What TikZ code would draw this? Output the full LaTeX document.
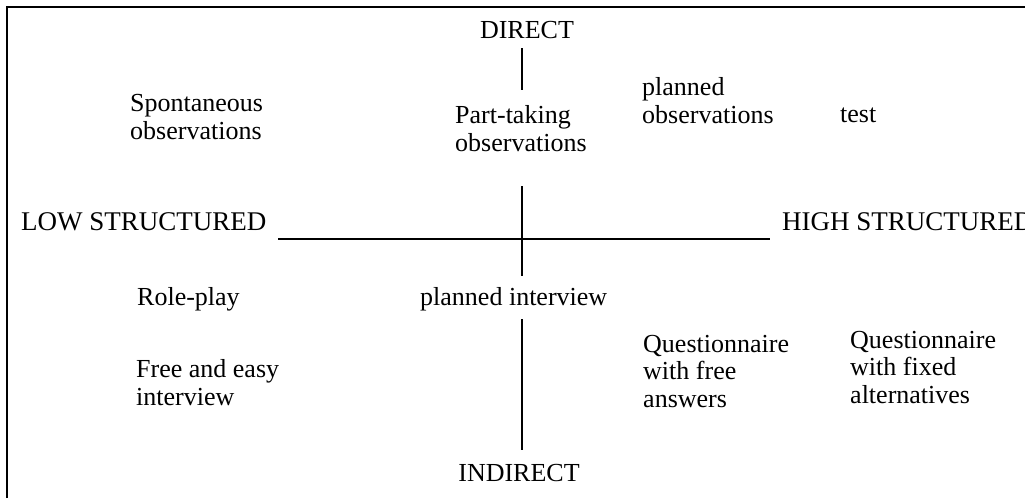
\documentclass[tikz,border=0pt]{standalone}
\usepackage{fontspec}
\setmainfont{Liberation Serif}
\begin{document}
\begin{tikzpicture}[x=1pt,y=-1pt,
  lbl/.style={font=\fontsize{26}{27.5}\selectfont,inner sep=0pt,anchor=base west,align=left},
  caplbl/.style={font=\fontsize{27}{28}\selectfont,inner sep=0pt,anchor=base west},
  clbl/.style={font=\fontsize{26}{27.5}\selectfont,inner sep=0pt,anchor=base},
  axis/.style={line width=1.5pt},
  frameline/.style={line width=2pt}]
\useasboundingbox (0,0) rectangle (1025,498);
\draw[frameline] (7,498) -- (7,7) -- (1025,7);
% labels (multi-line nodes are placed by the baseline of their last line)
\node[clbl] (direct) at (527,38) {DIRECT};
\node[clbl] (indirect) at (519,481) {INDIRECT};
\node[caplbl] (low) at (21,230) {LOW STRUCTURED};
\node[caplbl] (high) at (782,230) {HIGH STRUCTURED};
\node[lbl] (spont) at (130,139) {Spontaneous\\observations};
\node[lbl] (part) at (455,151) {Part-taking\\observations};
\node[lbl] (planobs) at (642,123) {planned\\observations};
\node[lbl] (test) at (840,122) {test};
\node[lbl] (role) at (137,305) {Role-play};
\node[lbl] (planint) at (420,305) {planned interview};
\node[lbl] (free) at (136,405) {Free and easy\\interview};
\node[lbl] (qfree) at (643,407) {Questionnaire\\with free\\answers};
\node[lbl] (qfix) at (850,403) {Questionnaire\\with fixed\\alternatives};
% axes
\coordinate (hL) at (278,239);
\coordinate (hR) at (770,239);
\coordinate (v1a) at (522,48);
\coordinate (v1b) at (522,90);
\coordinate (v2a) at (522,186);
\coordinate (v2b) at (522,276);
\coordinate (v3a) at (522,319);
\coordinate (v3b) at (522,450);
\draw[axis] (hL) -- (hR);
\draw[axis] (v1a) -- (v1b);
\draw[axis] (v2a) -- (v2b);
\draw[axis] (v3a) -- (v3b);
\end{tikzpicture}
\end{document}
